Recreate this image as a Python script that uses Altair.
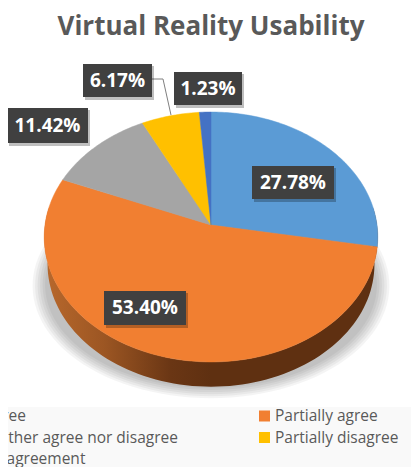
import math
import altair as alt
import pandas as pd

# ---- chart values ----
categories = ["Agree", "Partially agree", "Neither agree nor disagree", "Partially disagree", "Disagreement"]
shares = [27.78, 53.40, 11.42, 6.17, 1.23]
colors = ["#5b9bd5", "#f17f31", "#a5a5a5", "#ffc000", "#4472c4"]
labels = ["27.78%", "53.40%", "11.42%", "6.17%", "1.23%"]
title = "Virtual Reality Usability"

# ---- layout (image pixels) ----
W, H = 403, 459
AX, AY, RX, RY, K, DEPTH = 211, 225, 166, 123.8, 0.096, 27.5
label_boxes = [(252, 334, 166, 199), (104, 186, 291, 325), (7, 88, 108, 143), (83, 152, 64, 97), (174, 242, 72, 105)]
legend_pos = [(-32, 416), (259, 416), (-32, 437.5), (259, 437.5), (-32, 459)]
leader = [(152, 79), (163, 79), (171, 115)]

X = alt.X("x:Q", scale=alt.Scale(domain=[8, 8 + W], range=[0, W]), axis=None)
Y = alt.Y("y:Q", scale=alt.Scale(domain=[8, 8 + H], range=[0, H]), axis=None)


def rim(theta_deg, dy=0.0, gx=1.0, gy=1.0):
    t = math.radians(theta_deg)
    u, v = math.sin(t), -math.cos(t)
    w = 1 - K * v
    return AX + RX * gx * u / w, AY + dy + RY * gy * v / w


def poly(points, **mark):
    df = pd.DataFrame([{"x": p[0], "y": p[1], "i": i} for i, p in enumerate(points)])
    return alt.Chart(df).mark_line(**mark).encode(x=X, y=Y, order="i:Q")


def box(x0, x1, y0, y1, color, opacity=1.0):
    df = pd.DataFrame([{"x": x0, "x2": x1, "y": y0, "y2": y1}])
    return alt.Chart(df).mark_rect(color=color, opacity=opacity).encode(x=X, x2="x2:Q", y=Y, y2="y2:Q")


def text(x, y, s, **mark):
    df = pd.DataFrame([{"x": x, "y": y, "t": s}])
    return alt.Chart(df).mark_text(**mark).encode(x=X, y=Y, text="t:N")


layers = []

# legend band
layers.append(box(8, 8 + W, 407, 8 + H, "#f9f9f9"))

# soft shadow under the pie
for gx, gy in [(1.07, 0.90), (1.055, 0.885), (1.04, 0.87), (1.025, 0.855), (1.01, 0.84), (0.995, 0.825)]:
    pts = [rim(a, 50, gx, gy) for a in range(0, 360, 3)]
    layers.append(poly(pts, fill="#000000", fillOpacity=0.045, strokeWidth=0, stroke="transparent"))

# wall of the pie
lower = [a for a in range(82, 279, 2)]
wall = [rim(a) for a in lower] + [rim(a, DEPTH, 0.98, 0.98) for a in reversed(lower)]
wall_fill = alt.Gradient(
    gradient="linear", x1=0, x2=1, y1=0, y2=0,
    stops=[
        alt.GradientStop(offset=0, color="#b8682c"),
        alt.GradientStop(offset=0.18, color="#9c5623"),
        alt.GradientStop(offset=0.38, color="#6a3614"),
        alt.GradientStop(offset=0.5, color="#5f3011"),
        alt.GradientStop(offset=1, color="#5f3011"),
    ],
)
layers.append(poly(wall, fill=wall_fill, strokeWidth=0, stroke="transparent"))

# top face
start = 0.0
total = sum(shares)
for share, color in zip(shares, colors):
    a0 = start / total * 360
    a1 = (start + share) / total * 360
    n = max(2, int(a1 - a0))
    pts = [(AX, AY)] + [rim(a0 + (a1 - a0) * j / n) for j in range(n + 1)] + [(AX, AY)]
    layers.append(poly(pts, fill=color, stroke=color, strokeWidth=0.5))
    start += share

# leader line
layers.append(poly(leader, stroke="#7f7f7f", strokeWidth=1))

# data labels
for (x0, x1, y0, y1), s in zip(label_boxes, labels):
    layers.append(box(x0 + 2, x1 + 2, y0 + 2, y1 + 3, "#000000", 0.25))
    layers.append(box(x0, x1, y0, y1, "#404040"))
    layers.append(text((x0 + x1) / 2, (y0 + y1) / 2, s, font="Open Sans", fontWeight="bold", fontSize=19,
                       color="#ffffff", align="center", baseline="middle"))

# title
layers.append(text(211, 26.5, title, font="Open Sans", fontWeight="bold", fontSize=26, color="#595959",
                   align="center", baseline="middle"))

# legend
for (lx, ly), name, color in zip(legend_pos, categories, colors):
    layers.append(box(lx, lx + 11, ly - 5.5, ly + 5.5, color))
    layers.append(text(lx + 16, ly, name, font="Open Sans", fontSize=15.5, color="#595959",
                       align="left", baseline="middle"))

chart = alt.layer(*layers).properties(
    width=W, height=H, padding=0, autosize=alt.AutoSizeParams(type="none")
).configure_view(stroke=None)

chart.save("out.html", embed_options={"renderer": "svg", "actions": False})
